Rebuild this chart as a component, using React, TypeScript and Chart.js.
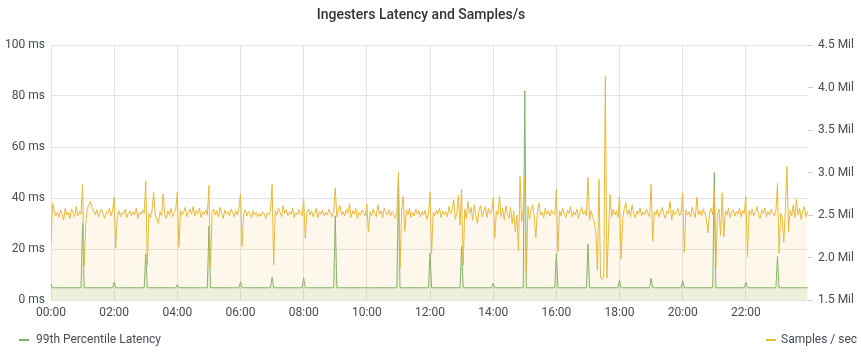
import React, { useEffect, useRef } from "react";
import { Chart, registerables } from "chart.js";

Chart.register(...registerables);

// Samples are every 3 minutes, 00:00 .. 23:57 (20 points per hour)
const STEP_MINUTES = 3;

// Samples / sec, in millions, one row per hour
const samplesMil: number[] = [
  2.18, 2.64, 2.55, 2.49, 2.53, 2.47, 2.56, 2.51, 2.44, 2.58, 2.50, 2.53, 2.46, 2.57, 2.52, 2.48, 2.60, 2.49, 2.54, 2.51,
  2.86, 1.89, 2.40, 2.58, 2.62, 2.66, 2.59, 2.55, 2.50, 2.56, 2.48, 2.53, 2.57, 2.51, 2.46, 2.54, 2.52, 2.58, 2.49, 2.55,
  2.71, 2.11, 2.50, 2.55, 2.48, 2.53, 2.51, 2.57, 2.47, 2.52, 2.55, 2.49, 2.54, 2.50, 2.58, 2.46, 2.53, 2.51, 2.56, 2.52,
  2.90, 1.91, 2.52, 2.47, 2.56, 2.77, 2.50, 2.45, 2.40, 2.54, 2.49, 2.75, 2.51, 2.46, 2.55, 2.50, 2.58, 2.48, 2.53, 2.57,
  2.77, 2.12, 2.56, 2.50, 2.54, 2.59, 2.48, 2.53, 2.57, 2.51, 2.60, 2.49, 2.55, 2.52, 2.58, 2.47, 2.54, 2.51, 2.56, 2.50,
  2.85, 1.89, 2.53, 2.57, 2.50, 2.55, 2.48, 2.59, 2.52, 2.46, 2.56, 2.51, 2.54, 2.49, 2.57, 2.53, 2.48, 2.55, 2.50, 2.58,
  2.75, 2.13, 2.52, 2.56, 2.49, 2.54, 2.51, 2.47, 2.55, 2.50, 2.53, 2.48, 2.52, 2.49, 2.54, 2.51, 2.46, 2.53, 2.50, 2.55,
  2.86, 1.91, 2.55, 2.50, 2.58, 2.53, 2.48, 2.61, 2.52, 2.56, 2.49, 2.54, 2.51, 2.58, 2.47, 2.53, 2.50, 2.56, 2.52, 2.49,
  2.69, 2.23, 2.53, 2.57, 2.50, 2.55, 2.48, 2.52, 2.58, 2.47, 2.54, 2.51, 2.56, 2.49, 2.53, 2.50, 2.57, 2.52, 2.48, 2.55,
  2.82, 2.48, 2.56, 2.61, 2.50, 2.54, 2.49, 2.57, 2.52, 2.63, 2.47, 2.55, 2.51, 2.58, 2.46, 2.53, 2.50, 2.56, 2.52, 2.49,
  2.63, 2.30, 2.54, 2.49, 2.57, 2.52, 2.48, 2.62, 2.51, 2.55, 2.47, 2.58, 2.53, 2.50, 2.56, 2.49, 2.54, 2.51, 2.46, 2.53,
  3.00, 1.88, 2.55, 2.72, 2.31, 2.56, 2.50, 2.58, 2.47, 2.53, 2.49, 2.57, 2.51, 2.55, 2.48, 2.54, 2.50, 2.56, 2.45, 2.52,
  2.77, 2.05, 2.53, 2.49, 2.56, 2.51, 2.58, 2.47, 2.55, 2.50, 2.54, 2.48, 2.60, 2.52, 2.57, 2.68, 2.45, 2.53, 2.73, 2.38,
  2.80, 1.91, 2.57, 2.46, 2.66, 2.52, 2.59, 2.44, 2.62, 2.50, 2.40, 2.56, 2.61, 2.48, 2.55, 2.60, 2.47, 2.58, 2.51, 2.54,
  2.70, 2.23, 2.55, 2.50, 2.72, 2.48, 2.58, 2.44, 2.61, 2.52, 2.46, 2.59, 2.40, 2.55, 2.30, 2.50, 2.08, 2.95, 2.42, 2.56,
  2.95, 1.82, 2.60, 2.45, 2.57, 2.62, 2.48, 2.23, 2.55, 2.64, 2.50, 2.53, 2.47, 2.58, 2.51, 2.55, 2.49, 2.56, 2.52, 2.50,
  2.80, 2.07, 2.55, 2.49, 2.58, 2.51, 2.47, 2.56, 2.52, 2.60, 2.48, 2.54, 2.50, 2.57, 2.46, 2.53, 2.59, 2.51, 2.55, 2.49,
  2.94, 2.44, 2.55, 2.48, 2.42, 2.29, 1.85, 2.92, 1.76, 1.74, 1.78, 4.13, 1.76, 2.30, 2.74, 2.48, 2.57, 2.50, 2.55, 2.47,
  2.72, 1.98, 2.45, 2.58, 2.65, 2.50, 2.56, 2.48, 2.62, 2.52, 2.47, 2.55, 2.51, 2.58, 2.49, 2.54, 2.50, 2.57, 2.52, 2.48,
  2.86, 2.19, 2.54, 2.50, 2.57, 2.48, 2.53, 2.59, 2.51, 2.46, 2.55, 2.52, 2.66, 2.44, 2.56, 2.50, 2.53, 2.58, 2.49, 2.54,
  2.76, 2.06, 2.56, 2.50, 2.54, 2.48, 2.59, 2.52, 2.47, 2.71, 2.50, 2.55, 2.49, 2.57, 2.52, 2.46, 2.29, 2.53, 2.58, 2.50,
  2.79, 1.89, 2.52, 2.57, 2.26, 2.76, 2.24, 2.55, 2.50, 2.58, 2.47, 2.53, 2.56, 2.49, 2.54, 2.51, 2.58, 2.48, 2.55, 2.52,
  2.72, 2.01, 2.55, 2.50, 2.57, 2.49, 2.53, 2.60, 2.51, 2.46, 2.56, 2.52, 2.58, 2.48, 2.54, 2.50, 2.57, 2.53, 2.49, 2.55,
  2.87, 2.05, 2.52, 2.47, 2.18, 2.58, 3.07, 2.30, 2.56, 2.49, 2.62, 2.47, 2.69, 2.50, 2.58, 2.45, 2.55, 2.60, 2.48, 2.54,
];

// 99th percentile latency: flat baseline with one reading per hour mark
const LATENCY_BASELINE_MS = 4.8;
const latencySpikeHour: number[] = [0, 1, 2, 3, 4, 5, 6, 7, 8, 9, 10, 11, 12, 13, 14, 15, 16, 17, 18, 19, 20, 21, 22, 23];
const latencySpikeMs: number[] = [6.3, 30, 7.0, 18, 6.0, 29, 7.2, 9.0, 8.7, 33, 4.8, 46, 18.4, 21, 6.6, 82, 18.4, 22, 7.8, 8.6, 7.6, 50, 7.0, 17];
const LAST_MINUTE = 1437;

const xTickLabels = ["00:00", "02:00", "04:00", "06:00", "08:00", "10:00", "12:00", "14:00", "16:00", "18:00", "20:00", "22:00"];
const leftTicks = [0, 20, 40, 60, 80, 100];
const rightTicks = [1.5, 2.0, 2.5, 3.0, 3.5, 4.0, 4.5];

const TITLE = "Ingesters Latency and Samples/s";
const LATENCY_LABEL = "99th Percentile Latency";
const SAMPLES_LABEL = "Samples / sec";

const GREEN = "#7eb26d";
const YELLOW = "#eab839";
const TEXT = "#464c54";
const GRID = "#e4e4e4";
const FONT = "Roboto, 'Helvetica Neue', Arial, sans-serif";

const overlayPlugin = {
  id: "overlay",
  afterDraw(chart: any) {
    const ctx = chart.ctx as CanvasRenderingContext2D;
    ctx.save();
    ctx.font = `500 14px ${FONT}`;
    ctx.fillStyle = "#333";
    ctx.textAlign = "center";
    ctx.textBaseline = "middle";
    ctx.fillText(TITLE, 421, 15);

    ctx.font = `12px ${FONT}`;
    ctx.fillStyle = TEXT;
    ctx.textAlign = "left";
    ctx.lineWidth = 2;
    ctx.strokeStyle = GREEN;
    ctx.beginPath();
    ctx.moveTo(19, 340);
    ctx.lineTo(29, 340);
    ctx.stroke();
    ctx.fillText(LATENCY_LABEL, 36, 340);

    ctx.strokeStyle = YELLOW;
    ctx.beginPath();
    ctx.moveTo(766, 340);
    ctx.lineTo(776, 340);
    ctx.stroke();
    ctx.fillText(SAMPLES_LABEL, 781, 340);
    ctx.restore();
  },
};

function buildLatency() {
  const pts: { x: number; y: number }[] = [];
  latencySpikeHour.forEach((h, i) => {
    const t = h * 60;
    if (t > 0) pts.push({ x: t - STEP_MINUTES, y: LATENCY_BASELINE_MS });
    pts.push({ x: t, y: latencySpikeMs[i] });
    pts.push({ x: t + STEP_MINUTES, y: LATENCY_BASELINE_MS });
  });
  pts.push({ x: LAST_MINUTE, y: LATENCY_BASELINE_MS });
  return pts;
}

export default function App() {
  const ref = useRef<HTMLCanvasElement | null>(null);

  useEffect(() => {
    if (!ref.current) return;
    const samplesData = samplesMil.map((v, i) => ({ x: i * STEP_MINUTES, y: v }));
    const latencyData = buildLatency();

    const chart = new Chart(ref.current, {
      type: "line",
      data: {
        datasets: [
          {
            label: SAMPLES_LABEL,
            data: samplesData,
            yAxisID: "y1",
            borderColor: YELLOW,
            backgroundColor: "rgba(234,184,57,0.1)",
            borderWidth: 1,
            pointRadius: 0,
            fill: "start",
            tension: 0,
          },
          {
            label: LATENCY_LABEL,
            data: latencyData,
            yAxisID: "y",
            borderColor: GREEN,
            backgroundColor: "rgba(126,178,109,0.12)",
            borderWidth: 1,
            pointRadius: 0,
            fill: "start",
            tension: 0,
          },
        ],
      },
      options: {
        animation: false,
        responsive: false,
        maintainAspectRatio: false,
        layout: { padding: { left: 0, right: 0, top: 45, bottom: 37 } },
        plugins: {
          legend: { display: false },
          title: { display: false },
          tooltip: { enabled: false },
        },
        scales: {
          x: {
            type: "linear",
            min: 0,
            max: 1438,
            border: { display: false },
            grid: { color: GRID, drawTicks: false, tickLength: 0 },
            afterBuildTicks: (scale: any) => {
              scale.ticks = xTickLabels.map((_, i) => ({ value: i * 120 }));
            },
            afterFit: (scale: any) => {
              scale.height = 20;
            },
            ticks: {
              padding: 6,
              color: TEXT,
              font: { family: FONT, size: 12 },
              maxRotation: 0,
              autoSkip: false,
              callback: (_v: any, i: number) => xTickLabels[i],
            },
          },
          y: {
            position: "left",
            min: 0,
            max: 100,
            border: { display: false },
            grid: { color: GRID, drawTicks: false, tickLength: 0 },
            afterBuildTicks: (scale: any) => {
              scale.ticks = leftTicks.map((v) => ({ value: v }));
            },
            afterFit: (scale: any) => {
              scale.width = 51;
            },
            ticks: {
              padding: 6,
              color: TEXT,
              font: { family: FONT, size: 12 },
              callback: (v: any) => `${v} ms`,
            },
          },
          y1: {
            position: "right",
            min: 1.5,
            max: 4.5,
            border: { display: false },
            grid: { drawOnChartArea: false, drawTicks: true, tickLength: 5, color: "#cfcfcf" },
            afterBuildTicks: (scale: any) => {
              scale.ticks = rightTicks.map((v) => ({ value: v }));
            },
            afterFit: (scale: any) => {
              scale.width = 53;
            },
            ticks: {
              padding: 5,
              color: TEXT,
              font: { family: FONT, size: 12 },
              callback: (v: any) => `${Number(v).toFixed(1)} Mil`,
            },
          },
        },
      },
      plugins: [overlayPlugin],
    });
    return () => chart.destroy();
  }, []);

  return (
    <div style={{ position: "absolute", left: 0, top: 0, width: 861, height: 357, background: "#fff" }}>
      <canvas ref={ref} width={861} height={357} style={{ display: "block" }} />
    </div>
  );
}
